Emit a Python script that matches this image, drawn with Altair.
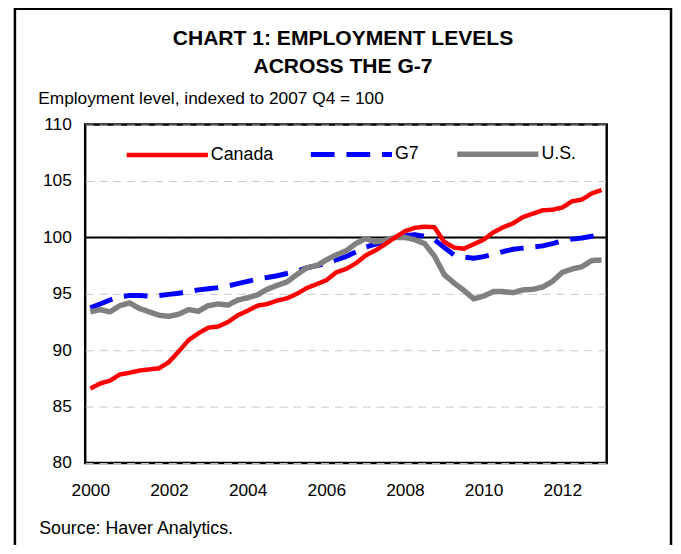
import altair as alt
import pandas as pd

FONT = "Liberation Sans"

# Quarterly observations, 2000 Q1 .. 2013 Q1
quarters = [f"{y}Q{q}" for y in range(2000, 2014) for q in range(1, 5)][:53]

canada = [86.6, 87.05, 87.3, 87.85, 88.0, 88.2, 88.3, 88.4,
          88.95, 89.9, 90.9, 91.5, 92.0, 92.1, 92.5, 93.1,
          93.5, 93.95, 94.1, 94.4, 94.6, 95.0, 95.5, 95.85,
          96.2, 96.9, 97.2, 97.7, 98.4, 98.85, 99.4, 100.0,
          100.55, 100.85, 100.95, 100.9, 99.6, 99.1, 99.0, 99.4,
          99.8, 100.45, 100.9, 101.25, 101.8, 102.1, 102.4, 102.45,
          102.65, 103.2, 103.35, 103.9, 104.2]

g7 = [93.75, 94.1, 94.45, 94.75, 94.85, 94.85, 94.8, 94.85,
      94.95, 95.05, 95.2, 95.35, 95.45, 95.55, 95.7, 95.9,
      96.1, 96.3, 96.45, 96.6, 96.8, 97.0, 97.3, 97.5,
      97.7, 98.0, 98.3, 98.7, 99.15, 99.4, 99.7, 100.0,
      100.15, 100.25, 100.1, 99.8, 99.1, 98.45, 98.25, 98.15,
      98.3, 98.5, 98.75, 98.95, 99.05, 99.15, 99.25, 99.45,
      99.7, 99.85, 99.95, 100.1, 100.25]

us = [93.4, 93.6, 93.4, 93.95, 94.2, 93.7, 93.4, 93.1,
      93.0, 93.2, 93.6, 93.45, 93.95, 94.1, 94.0, 94.45,
      94.65, 94.9, 95.4, 95.75, 96.05, 96.7, 97.3, 97.5,
      98.0, 98.45, 98.8, 99.45, 99.9, 99.6, 99.75, 100.0,
      100.0, 99.8, 99.45, 98.35, 96.7, 95.95, 95.3, 94.55,
      94.8, 95.2, 95.2, 95.1, 95.35, 95.4, 95.6, 96.1,
      96.9, 97.2, 97.4, 97.95, 98.0]

series_names = ["Canada", "G7", "U.S."]
series_colors = ["#ff0000", "#0000ff", "#808080"]
series_dashes = [[1, 0], [24, 12], [1, 0]]
series_widths = [4.5, 5.5, 4.5]

y_ticks = [80, 85, 90, 95, 100, 105, 110]
x_ticks = [2000, 2002, 2004, 2006, 2008, 2010, 2012]


def qpos(label):
    return int(label[:4]) + (int(label[5]) - 1) / 4


rows = []
# drawing order: G7 at the bottom, then U.S., Canada on top
for name, vals in [("G7", g7), ("U.S.", us), ("Canada", canada)]:
    for qlab, v in zip(quarters, vals):
        rows.append({"t": qpos(qlab), "value": v, "series": name})
df = pd.DataFrame(rows)

x_enc = alt.X("t:Q",
              scale=alt.Scale(domain=[1999.87, 2013.13], nice=False, zero=False),
              axis=alt.Axis(values=x_ticks, format="d", grid=False,
                            labelFontSize=17.5, labelPadding=19,
                            title="Source: Haver Analytics.",
                            titleX=-47, titleY=71, titleAlign="left",
                            titleAnchor="start", titleBaseline="alphabetic",
                            titleFontSize=18, titleFontWeight="normal"))

y_enc = alt.Y("value:Q",
              scale=alt.Scale(domain=[80, 110], nice=False, zero=False),
              axis=alt.Axis(values=y_ticks, grid=True, gridDash=[8, 6],
                            gridColor="#c8c8c8", gridWidth=1,
                            labelFontSize=17.5, labelPadding=14,
                            title="Employment level, indexed to 2007 Q4 = 100",
                            titleAngle=0, titleX=-48, titleY=-21,
                            titleAlign="left", titleAnchor="start",
                            titleBaseline="alphabetic", titleFontSize=17.5,
                            titleFontWeight="normal"))

legend = alt.Legend(title=None, orient="none", legendX=39, legendY=-14,
                    direction="horizontal", columns=3, symbolType="stroke",
                    symbolSize=6724, symbolStrokeWidth=5, labelFontSize=18,
                    labelFont=FONT, labelColor="black", labelOffset=0,
                    columnPadding=27, padding=0, labelLimit=0)

frame = alt.Chart(pd.DataFrame({"k": [0]})).mark_rect(
    fill="transparent", stroke="black", strokeWidth=2.5
).encode(x=alt.value(-71), x2=alt.value(592), y=alt.value(-117), y2=alt.value(440))

rule = alt.Chart(pd.DataFrame({"value": [100]})).mark_rule(
    color="black", strokeWidth=2
).encode(y=y_enc)

lines = alt.Chart(df).mark_line(strokeCap="butt", strokeJoin="round").encode(
    x=x_enc,
    y=y_enc,
    color=alt.Color("series:N",
                    scale=alt.Scale(domain=series_names, range=series_colors),
                    legend=legend),
    strokeDash=alt.StrokeDash("series:N",
                              scale=alt.Scale(domain=series_names, range=series_dashes),
                              legend=legend),
    strokeWidth=alt.StrokeWidth("series:N",
                                scale=alt.Scale(domain=series_names, range=series_widths),
                                legend=None),
)

chart = alt.layer(frame, rule, lines).properties(
    width=527,
    height=342,
    autosize=alt.AutoSizeParams(type="none"),
    padding={"left": 78, "top": 115, "right": 67, "bottom": 80},
    background="white",
    title=alt.TitleParams(["CHART 1: EMPLOYMENT LEVELS", "ACROSS THE G-7"],
                          font=FONT, fontSize=21.3, fontWeight="bold",
                          lineHeight=28, anchor="middle", frame="group",
                          offset=-70, dx=-3, color="black"),
).configure_view(
    stroke="black", strokeWidth=2.5
).configure_axis(
    labelFont=FONT, titleFont=FONT, labelColor="black", titleColor="black",
    domain=False, ticks=False
)

chart.save("out.html", embed_options={"renderer": "svg", "actions": False})
